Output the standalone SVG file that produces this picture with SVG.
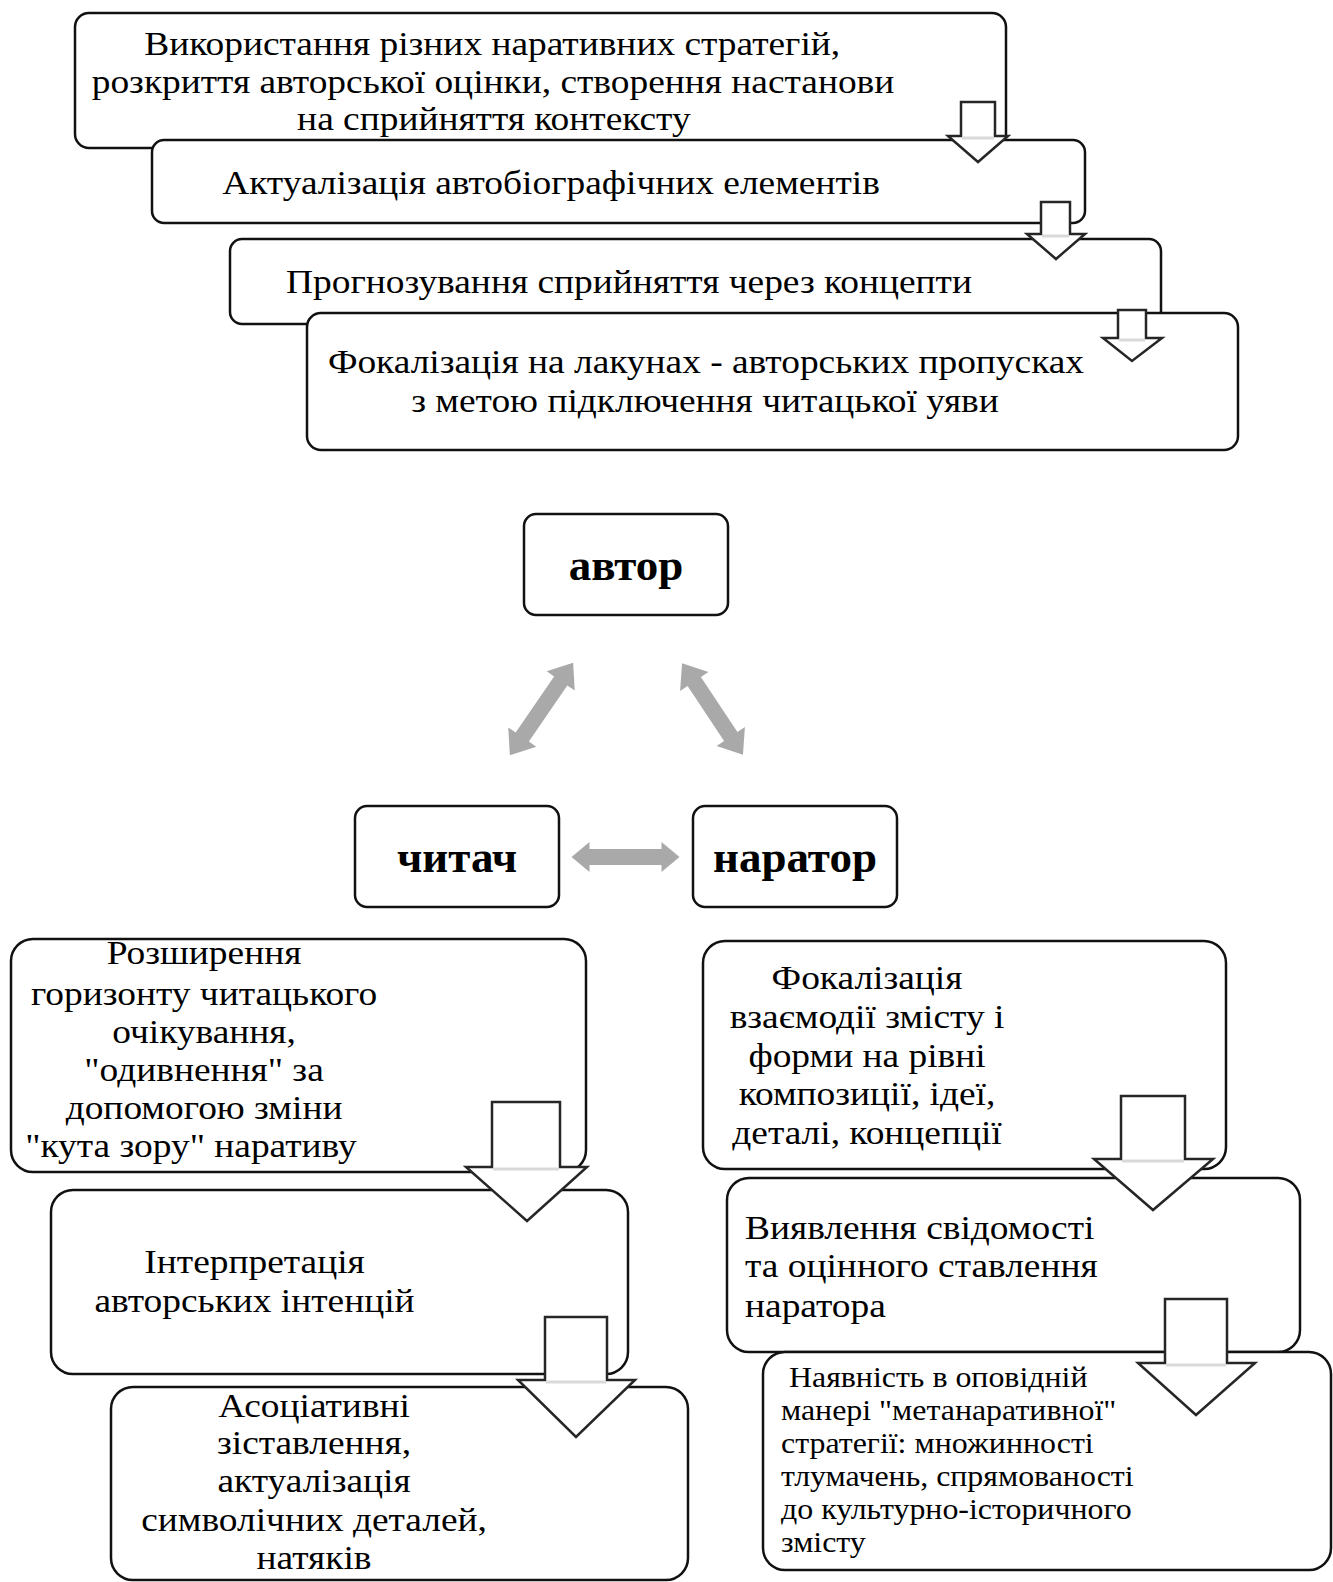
<svg xmlns="http://www.w3.org/2000/svg" width="1333" height="1582" viewBox="0 0 1333 1582">
<style>
.box{fill:#fff;stroke:#111;stroke-width:2.5}
.t{font-family:"Liberation Serif","Times New Roman",serif;font-size:34px;fill:#000}
.c{text-anchor:middle}
.b{font-weight:bold;font-size:45px}
.s{font-size:29px}
.down{fill:#fff;stroke:#262626;stroke-width:2.5;stroke-linejoin:miter}
.seam{stroke:#d9d9d9;stroke-width:3}
.dbl{fill:#a9a9a9}
</style>
<rect width="1333" height="1582" fill="#fff"/>

<g id="n1"><rect class="box" x="75" y="13" width="931" height="135" rx="14"/>
<g transform="scale(1.1,1)">
<text class="t c" x="447.5" y="55">Використання різних наративних стратегій,</text>
<text class="t c" x="448.2" y="93">розкриття авторської оцінки, створення настанови</text>
<text class="t c" x="449" y="130">на сприйняття контексту</text></g></g>

<g id="n2"><rect class="box" x="152" y="140" width="933" height="83" rx="12"/>
<g transform="scale(1.1,1)"><text class="t c" x="500.9" y="194">Актуалізація автобіографічних елементів</text></g></g>

<g id="n3"><rect class="box" x="230" y="239" width="931" height="85" rx="12"/>
<g transform="scale(1.1,1)"><text class="t c" x="571.8" y="293">Прогнозування сприйняття через концепти</text></g></g>

<g id="n4"><rect class="box" x="307" y="313" width="931" height="137" rx="14"/>
<g transform="scale(1.1,1)">
<text class="t c" x="641.8" y="373">Фокалізація на лакунах - авторських пропусках</text>
<text class="t c" x="640.9" y="412">з метою підключення читацької уяви</text></g></g>

<g id="author"><rect class="box" x="524" y="514" width="204" height="101" rx="12"/>
<text class="t c b" x="626" y="580">автор</text></g>
<g id="reader"><rect class="box" x="355" y="806" width="204" height="101" rx="12"/>
<text class="t c b" x="457" y="872">читач</text></g>
<g id="narrator"><rect class="box" x="693" y="806" width="204" height="101" rx="12"/>
<text class="t c b" x="795" y="872">наратор</text></g>

<g id="l1"><rect class="box" x="11" y="939" width="575" height="233" rx="22"/>
<g transform="scale(1.1,1)">
<text class="t c" x="185.5" y="964">Розширення</text>
<text class="t c" x="185.5" y="1005">горизонту читацького</text>
<text class="t c" x="185.5" y="1043">очікування,</text>
<text class="t c" x="185.5" y="1081">"одивнення" за</text>
<text class="t c" x="185.5" y="1119">допомогою зміни</text>
<text class="t c" x="173.6" y="1157">"кута зору" наративу</text></g></g>

<g id="l2"><rect class="box" x="51" y="1190" width="577" height="184" rx="22"/>
<g transform="scale(1.1,1)">
<text class="t c" x="231.4" y="1273">Інтерпретація</text>
<text class="t c" x="231.4" y="1312">авторських інтенцій</text></g></g>

<g id="l3"><rect class="box" x="111" y="1387" width="577" height="193" rx="22"/>
<g transform="scale(1.1,1)">
<text class="t c" x="285.5" y="1417">Асоціативні</text>
<text class="t c" x="285.5" y="1454">зіставлення,</text>
<text class="t c" x="285.5" y="1492">актуалізація</text>
<text class="t c" x="285.5" y="1531">символічних деталей,</text>
<text class="t c" x="285.5" y="1569">натяків</text></g></g>

<g id="r1"><rect class="box" x="703" y="941" width="523" height="228" rx="22"/>
<g transform="scale(1.1,1)">
<text class="t c" x="788.2" y="989">Фокалізація</text>
<text class="t c" x="788.2" y="1028">взаємодії змісту і</text>
<text class="t c" x="788.2" y="1067">форми на рівні</text>
<text class="t c" x="788.2" y="1105">композиції, ідеї,</text>
<text class="t c" x="788.2" y="1144">деталі, концепції</text></g></g>

<g id="r2"><rect class="box" x="727" y="1178" width="573" height="174" rx="22"/>
<g transform="scale(1.1,1)">
<text class="t" x="677.3" y="1239">Виявлення свідомості</text>
<text class="t" x="677.3" y="1277">та оцінного ставлення</text>
<text class="t" x="677.3" y="1317">наратора</text></g></g>

<g id="r3"><rect class="box" x="763" y="1352" width="568" height="218" rx="22"/>
<g transform="scale(1.1,1)">
<text class="t s" x="710" y="1387" xml:space="preserve"> Наявність в оповідній</text>
<text class="t s" x="710" y="1420">манері "метанаративної"</text>
<text class="t s" x="710" y="1453">стратегії: множинності</text>
<text class="t s" x="710" y="1486">тлумачень, спрямованості</text>
<text class="t s" x="710" y="1519">до культурно-історичного</text>
<text class="t s" x="710" y="1552">змісту</text></g></g>

<g id="connectors">
<polygon class="down" points="961,102 995,102 995,136 1008,136 978,162 948,136 961,136"/>
<line class="seam" x1="962" y1="138" x2="994" y2="138"/>
<polygon class="down" points="1041,202 1070,202 1070,234 1085,234 1056,259 1027,234 1041,234"/>
<line class="seam" x1="1042" y1="236" x2="1069" y2="236"/>
<polygon class="down" points="1118,310 1146,310 1146,338 1162,338 1132,361 1103,338 1118,338"/>
<line class="seam" x1="1119" y1="340" x2="1145" y2="340"/>

<polygon class="down" points="492,1102 560,1102 560,1167 587,1167 527,1221 466,1167 492,1167"/>
<line class="seam" x1="493" y1="1169" x2="559" y2="1169"/>
<polygon class="down" points="545,1317 607,1317 607,1380 635,1380 576,1437 518,1380 545,1380"/>
<line class="seam" x1="546" y1="1382" x2="606" y2="1382"/>

<polygon class="down" points="1121,1096 1185,1096 1185,1159 1213,1159 1153,1210 1094,1159 1121,1159"/>
<line class="seam" x1="1122" y1="1161" x2="1184" y2="1161"/>
<polygon class="down" points="1165,1299 1227,1299 1227,1363 1255,1363 1196,1415 1138,1363 1165,1363"/>
<line class="seam" x1="1166" y1="1365" x2="1226" y2="1365"/>

<polygon class="dbl" transform="translate(541.5,709) rotate(-55.6)" points="-56,0 -34,-17 -34,-8 34,-8 34,-17 56,0 34,17 34,8 -34,8 -34,17"/>
<polygon class="dbl" transform="translate(712.5,709) rotate(56.4)" points="-55,0 -33,-17 -33,-8 33,-8 33,-17 55,0 33,17 33,8 -33,8 -33,17"/>
<polygon class="dbl" transform="translate(625.5,857)" points="-54,0 -36,-15 -36,-8 36,-8 36,-15 54,0 36,15 36,8 -36,8 -36,15"/>
</g>
</svg>
